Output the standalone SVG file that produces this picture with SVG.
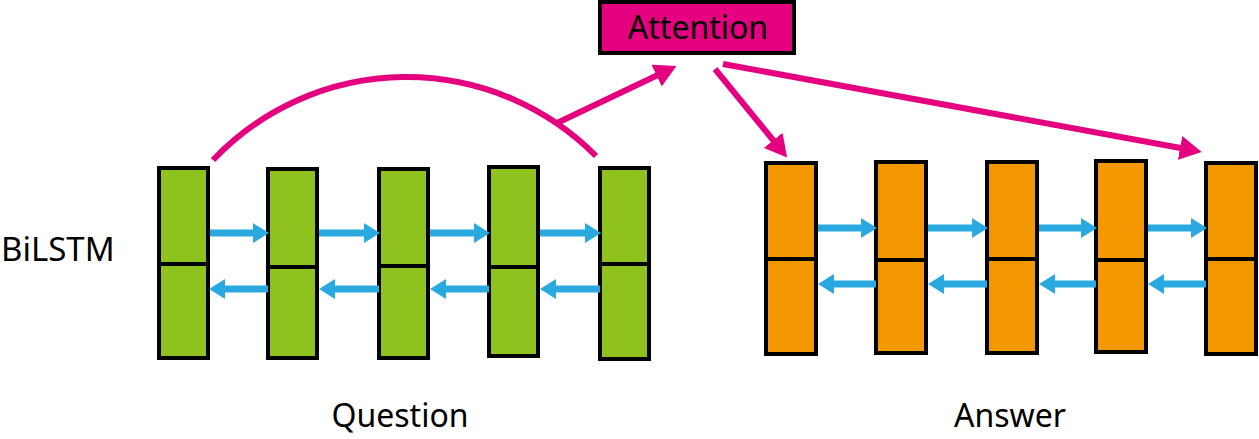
<svg xmlns="http://www.w3.org/2000/svg" width="1259" height="439" viewBox="0 0 1259 439">
<style>
.g{fill:#8DC21F;stroke:#000;stroke-width:4}
.o{fill:#F39800;stroke:#000;stroke-width:4}
.b{stroke:#29A9E0;stroke-width:7;fill:none}
.m{stroke:#E4007F;stroke-width:6;fill:none}
.t{font-family:"Noto Sans","Open Sans",sans-serif;fill:#000}
</style>
<defs>
<marker id="bh" markerUnits="userSpaceOnUse" markerWidth="17" markerHeight="20" refX="4" refY="10" orient="auto">
<path d="M0,0 L16,10 L0,20 z" fill="#29A9E0"/>
</marker>
<marker id="mh" markerUnits="userSpaceOnUse" markerWidth="24" markerHeight="24" refX="6" refY="12" orient="auto">
<path d="M0,0 L22,12 L0,24 z" fill="#E4007F"/>
</marker>
</defs>
<rect width="1259" height="439" fill="#fff"/>
<g id="attention">
<rect x="600" y="2" width="194" height="51" fill="#E4007F" stroke="#000" stroke-width="4"/>
<text class="t" x="698" y="39" font-size="32" text-anchor="middle">Attention</text>
</g>
<g id="label-bilstm"><text class="t" x="1" y="261" font-size="33">BiLSTM</text></g>
<g id="label-question"><text class="t" x="400" y="427" font-size="32" text-anchor="middle">Question</text></g>
<g id="label-answer"><text class="t" x="1010" y="427" font-size="32" text-anchor="middle">Answer</text></g>
<g id="q1"><rect class="g" x="159" y="168" width="49" height="96"/><rect class="g" x="159" y="264" width="49" height="94"/></g>
<g id="q2"><rect class="g" x="268" y="169" width="49" height="98"/><rect class="g" x="268" y="267" width="49" height="91"/></g>
<g id="q3"><rect class="g" x="379" y="169" width="49" height="97"/><rect class="g" x="379" y="266" width="49" height="92"/></g>
<g id="q4"><rect class="g" x="489" y="167" width="49" height="100"/><rect class="g" x="489" y="267" width="49" height="89"/></g>
<g id="q5"><rect class="g" x="600" y="168" width="49" height="96"/><rect class="g" x="600" y="264" width="49" height="95"/></g>
<g id="a1"><rect class="o" x="766" y="163" width="50" height="96"/><rect class="o" x="766" y="259" width="50" height="95"/></g>
<g id="a2"><rect class="o" x="876" y="162" width="50" height="98"/><rect class="o" x="876" y="260" width="50" height="93"/></g>
<g id="a3"><rect class="o" x="987" y="162" width="50" height="97"/><rect class="o" x="987" y="259" width="50" height="94"/></g>
<g id="a4"><rect class="o" x="1096" y="161" width="50" height="99"/><rect class="o" x="1096" y="260" width="50" height="92"/></g>
<g id="a5"><rect class="o" x="1206" y="163" width="50" height="96"/><rect class="o" x="1206" y="259" width="50" height="95"/></g>
<g id="connectors">
<path class="b" d="M210,233 H257" marker-end="url(#bh)"/>
<path class="b" d="M319,233 H368" marker-end="url(#bh)"/>
<path class="b" d="M430,233 H478" marker-end="url(#bh)"/>
<path class="b" d="M540,233 H589" marker-end="url(#bh)"/>
<path class="b" d="M268,289 H221" marker-end="url(#bh)"/>
<path class="b" d="M379,289 H331" marker-end="url(#bh)"/>
<path class="b" d="M489,289 H442" marker-end="url(#bh)"/>
<path class="b" d="M600,289 H552" marker-end="url(#bh)"/>
<path class="b" d="M818,228 H865" marker-end="url(#bh)"/>
<path class="b" d="M928,228 H976" marker-end="url(#bh)"/>
<path class="b" d="M1039,228 H1085" marker-end="url(#bh)"/>
<path class="b" d="M1148,228 H1195" marker-end="url(#bh)"/>
<path class="b" d="M876,284 H830" marker-end="url(#bh)"/>
<path class="b" d="M987,284 H940" marker-end="url(#bh)"/>
<path class="b" d="M1096,284 H1051" marker-end="url(#bh)"/>
<path class="b" d="M1206,284 H1160" marker-end="url(#bh)"/>
<path class="m" d="M213,160 A267,267 0 0 1 596,156"/>
<path class="m" d="M557,123 L662,73" marker-end="url(#mh)"/>
<path class="m" d="M715,69 L777,145" marker-end="url(#mh)"/>
<path class="m" d="M723,64 L1186,149" marker-end="url(#mh)"/>
</g>
</svg>
